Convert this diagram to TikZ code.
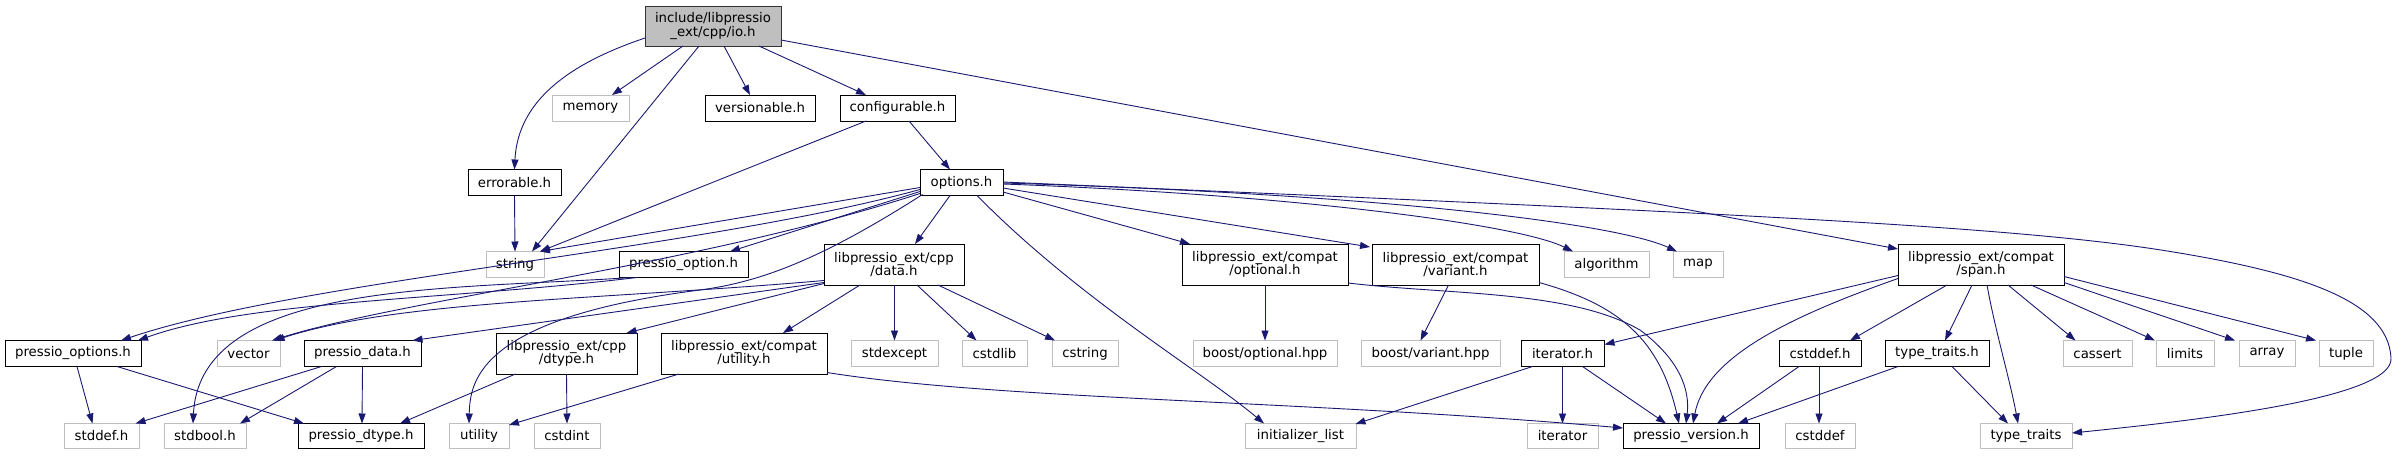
\documentclass[tikz,border=0pt]{standalone}
\usepackage{fontspec}
\setmainfont{DejaVu Sans}
\usetikzlibrary{arrows.meta,calc}
\definecolor{edgeblue}{HTML}{191970}
\definecolor{extgray}{HTML}{BFBFBF}
\begin{document}
\begin{tikzpicture}[x=1pt,y=-1pt,
  box/.style={draw=black,line width=1pt,fill=white,inner sep=0pt,align=center,
    font=\fontsize{13.3}{13.5}\selectfont},
  docbox/.style={box},
  extbox/.style={box,draw=extgray},
  rootbox/.style={box,fill=extgray,draw=black!80},
  dep/.style={draw=edgeblue,line width=0.9pt,-{Triangle[length=10pt,width=7pt]}}]
\useasboundingbox (0,0) rectangle (2403,455);
\newcommand{\bx}[6]{\node[#1,minimum width=#4pt,minimum height=#5pt] (#2) at (#3) {#6};}
% row 0
\bx{rootbox}{io}{713,26}{136}{40}{include/libpressio\\\_ext/cpp/io.h}
% row 1
\bx{extbox}{memory}{590.5,108}{77}{26}{memory}
\bx{docbox}{versionable}{760,108}{110}{26}{versionable.h}
\bx{docbox}{configurable}{897.5,108}{115}{26}{configurable.h}
% row 2
\bx{docbox}{errorable}{514.5,182.5}{93}{26}{errorable.h}
\bx{docbox}{options}{961.5,182.5}{83}{26}{options.h}
% row 3
\bx{extbox}{string}{515,264.5}{58}{26}{string}
\bx{docbox}{poption}{683.5,264.5}{129}{26}{pressio\_option.h}
\bx{docbox}{data}{894,264.5}{140}{41}{libpressio\_ext/cpp\\/data.h}
\bx{docbox}{optional}{1265,264.5}{166}{41}{libpressio\_ext/compat\\/optional.h}
\bx{docbox}{variant}{1455.5,264.5}{167}{41}{libpressio\_ext/compat\\/variant.h}
\bx{extbox}{algorithm}{1606.5,264.5}{85}{26}{algorithm}
\bx{extbox}{map}{1698,264.5}{50}{26}{map}
\bx{docbox}{span}{1981,264.5}{166}{41}{libpressio\_ext/compat\\/span.h}
% row 4
\bx{docbox}{poptions}{73,353.5}{136}{26}{pressio\_options.h}
\bx{extbox}{vector}{248.5,353.5}{63}{26}{vector}
\bx{docbox}{pdata}{362.5,353.5}{117}{26}{pressio\_data.h}
\bx{docbox}{dtype}{566.5,353.5}{141}{41}{libpressio\_ext/cpp\\/dtype.h}
\bx{docbox}{utilityh}{744,353.5}{166}{41}{libpressio\_ext/compat\\/utility.h}
\bx{extbox}{stdexcept}{894.5,353.5}{87}{26}{stdexcept}
\bx{extbox}{cstdlib}{994.5,353.5}{65}{26}{cstdlib}
\bx{extbox}{cstring}{1085,353.5}{66}{26}{cstring}
\bx{extbox}{boostopt}{1265,353.5}{144}{26}{boost/optional.hpp}
\bx{extbox}{boostvar}{1430.5,353.5}{139}{26}{boost/variant.hpp}
\bx{docbox}{iteratorh}{1562.5,353.5}{83}{26}{iterator.h}
\bx{docbox}{cstddefh}{1820,353.5}{82}{26}{cstddef.h}
\bx{docbox}{typetraitsh}{1937,353.5}{104}{26}{type\_traits.h}
\bx{extbox}{cassert}{2097.5,353.5}{69}{26}{cassert}
\bx{extbox}{limits}{2185,353.5}{58}{26}{limits}
\bx{extbox}{array}{2267,353.5}{56}{26}{array}
\bx{extbox}{tuple}{2346,353.5}{54}{26}{tuple}
% row 5
\bx{extbox}{stddef}{101.5,436}{75}{25}{stddef.h}
\bx{extbox}{stdbool}{205,436}{82}{25}{stdbool.h}
\bx{docbox}{pdtype}{361,436}{126}{25}{pressio\_dtype.h}
\bx{extbox}{utility}{479,436}{60}{25}{utility}
\bx{extbox}{cstdint}{567,436}{66}{25}{cstdint}
\bx{extbox}{initlist}{1300.5,436}{111}{25}{initializer\_list}
\bx{extbox}{iterator}{1562.5,436}{71}{25}{iterator}
\bx{docbox}{pversion}{1691,436}{136}{25}{pressio\_version.h}
\bx{extbox}{cstddef}{1820,436}{70}{25}{cstddef}
\bx{extbox}{typetraits}{2026,436}{92}{25}{type\_traits}

% ---- edges from io.h
\draw[dep] ($(io)+(-68,12)$) .. controls (580,60) and (518,95) .. ($(errorable)+(0,-13)$);
\draw[dep] ($(io)+(-30,20)$) -- ($(memory)+(21.5,-13)$);
\draw[dep] ($(io)+(-14,20)$) -- ($(string)+(17,-13)$);
\draw[dep] ($(io)+(11,20)$) -- ($(versionable)+(-10,-13)$);
\draw[dep] ($(io)+(46,20)$) -- ($(configurable)+(-31.5,-13)$);
\draw[dep] ($(io)+(68,14)$) -- ($(span)+(-83,-15.5)$);
% errorable, configurable
\draw[dep] ($(errorable)+(0,13)$) -- ($(string)+(0,-13)$);
\draw[dep] ($(configurable)+(-31.5,13)$) -- ($(string)+(25,-13)$);
\draw[dep] ($(configurable)+(11.5,13)$) -- ($(options)+(-11.5,-13)$);
% options.h
\draw[dep] ($(options)+(-41.5,5)$) -- ($(string)+(25,-13)$);
\draw[dep] ($(options)+(-41.5,9)$) -- ($(poption)+(46.5,-13)$);
\draw[dep] ($(options)+(-11.5,13)$) -- ($(data)+(21,-20.5)$);
\draw[dep] ($(options)+(15.5,13)$) .. controls (1080,300) and (1200,370) .. ($(initlist)+(-36.5,-12.5)$);
\draw[dep] ($(options)+(41.5,9.5)$) -- ($(optional)+(-75,-20.5)$);
\draw[dep] ($(options)+(41.5,5.5)$) -- ($(variant)+(-85.5,-17.5)$);
\draw[dep] ($(options)+(41.5,1.5)$) .. controls (1300,195) and (1520,225) .. ($(algorithm)+(-33.5,-13)$);
\draw[dep] ($(options)+(41.5,0.5)$) .. controls (1400,195) and (1620,225) .. ($(map)+(-21,-13)$);
\draw[dep] ($(options)+(41.5,-0.5)$) .. controls (1700,212) and (2000,225) .. (2161,250)
   .. controls (2300,272) and (2388,300) .. (2391,358)
   .. controls (2394,398) and (2200,420) .. ($(typetraits)+(46,-3)$);
\draw[dep] ($(options)+(-39,12)$) .. controls (820,260) and (760,282) .. (700,290)
   .. controls (480,318) and (470,380) .. ($(utility)+(-10,-12.5)$);
\draw[dep] ($(options)+(-41.5,7)$) .. controls (700,250) and (300,280) .. ($(poptions)+(48,-13)$);
\draw[dep] ($(options)+(-41.5,11)$) .. controls (700,265) and (400,300) .. ($(vector)+(23.5,-13)$);
% pressio_option.h
\draw[dep] ($(poption)+(-46.5,13)$) .. controls (450,300) and (250,300) .. ($(poptions)+(65,-13)$);
\draw[dep] ($(poption)+(-52,13)$) .. controls (450,290) and (200,280) .. ($(stdbool)+(-12,-12.5)$);
% data.h
\draw[dep] ($(data)+(-70,18)$) -- ($(pdata)+(50,-13)$);
\draw[dep] ($(data)+(-70,19)$) -- ($(dtype)+(60,-20.5)$);
\draw[dep] ($(data)+(-70,16)$) .. controls (600,300) and (400,300) .. ($(vector)+(26,-13)$);
\draw[dep] ($(data)+(-34,20.5)$) -- ($(utilityh)+(39,-20.5)$);
\draw[dep] ($(data)+(0.5,20.5)$) -- ($(stdexcept)+(0,-13)$);
\draw[dep] ($(data)+(23,20.5)$) -- ($(cstdlib)+(-18,-13)$);
\draw[dep] ($(data)+(44,20.5)$) -- ($(cstring)+(-30,-13)$);
% C headers
\draw[dep] ($(poptions)+(4,13)$) -- ($(stddef)+(-9,-12.5)$);
\draw[dep] ($(poptions)+(44,13)$) -- ($(pdtype)+(-57,-12.5)$);
\draw[dep] ($(pdata)+(-41,13)$) -- ($(stddef)+(34,-12.5)$);
\draw[dep] ($(pdata)+(-26,13)$) -- ($(stdbool)+(35,-12.5)$);
\draw[dep] ($(pdata)+(0,13)$) -- ($(pdtype)+(1,-12.5)$);
\draw[dep] ($(dtype)+(-51,20.5)$) -- ($(pdtype)+(39,-12.5)$);
\draw[dep] ($(dtype)+(0,20.5)$) -- ($(cstdint)+(0,-12.5)$);
\draw[dep] ($(utilityh)+(-65,20.5)$) -- ($(utility)+(30,-11)$);
\draw[dep] ($(utilityh)+(83,19)$) .. controls (1000,400) and (1300,400) .. ($(pversion)+(-68,-8)$);
% optional / variant
\draw[dep] ($(optional)+(0,20.5)$) -- ($(boostopt)+(0,-13)$);
\draw[dep] ($(optional)+(83,18.5)$) .. controls (1450,295) and (1570,290) .. (1640,330)
   .. controls (1680,360) and (1690,390) .. ($(pversion)+(-5,-12.5)$);
\draw[dep] ($(variant)+(-7,20.5)$) -- ($(boostvar)+(-10,-13)$);
\draw[dep] ($(variant)+(83.5,18)$) .. controls (1620,305) and (1660,340) .. ($(pversion)+(-12,-12.5)$);
% span.h
\draw[dep] ($(span)+(-83,11)$) -- ($(iteratorh)+(42,-9)$);
\draw[dep] ($(span)+(-83,14)$) .. controls (1780,320) and (1705,360) .. ($(pversion)+(2,-12.5)$);
\draw[dep] ($(span)+(-34,20.5)$) -- ($(cstddefh)+(30,-13)$);
\draw[dep] ($(span)+(-9,20.5)$) -- ($(typetraitsh)+(8,-13)$);
\draw[dep] ($(span)+(6,20.5)$) .. controls (1995,330) and (2010,380) .. ($(typetraits)+(-8,-12.5)$);
\draw[dep] ($(span)+(27,20.5)$) -- ($(cassert)+(-22,-13)$);
\draw[dep] ($(span)+(50,20.5)$) -- ($(limits)+(-30,-13)$);
\draw[dep] ($(span)+(83,18)$) -- ($(array)+(-32,-13)$);
\draw[dep] ($(span)+(83,12)$) -- ($(tuple)+(-30,-13)$);
% iterator.h, cstddef.h, type_traits.h
\draw[dep] ($(iteratorh)+(-30,13)$) -- ($(initlist)+(55,-12)$);
\draw[dep] ($(iteratorh)+(0,13)$) -- ($(iterator)+(0,-12.5)$);
\draw[dep] ($(iteratorh)+(20,13)$) -- ($(pversion)+(-25,-12.5)$);
\draw[dep] ($(cstddefh)+(-21,13)$) -- ($(pversion)+(26,-12.5)$);
\draw[dep] ($(cstddefh)+(-1,13)$) -- ($(cstddef)+(-1,-12.5)$);
\draw[dep] ($(typetraitsh)+(-39,13)$) -- ($(pversion)+(47,-12.5)$);
\draw[dep] ($(typetraitsh)+(15,13)$) -- ($(typetraits)+(-18,-12.5)$);
\end{tikzpicture}
\end{document}
